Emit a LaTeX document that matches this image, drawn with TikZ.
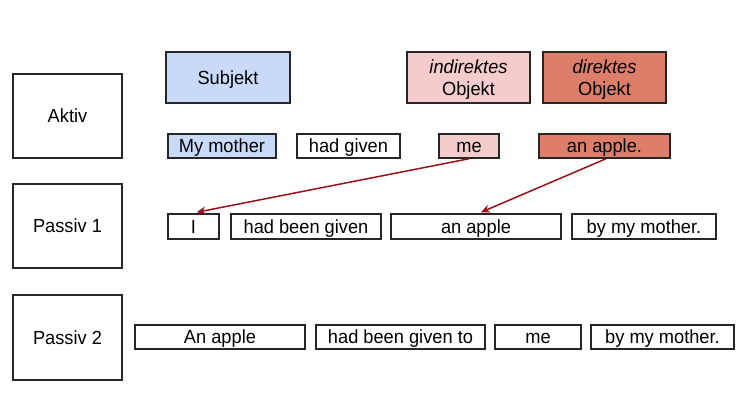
\documentclass[tikz,border=0pt]{standalone}
\usepackage{fontspec}
\setmainfont{Liberation Sans}[FakeStretch=0.96]
\usetikzlibrary{arrows.meta}
\definecolor{subj}{HTML}{C9DAF8}
\definecolor{iobj}{HTML}{F4CCCC}
\definecolor{dobj}{HTML}{DD7E6B}
\definecolor{arr}{HTML}{98111A}
\begin{document}
\begin{tikzpicture}[x=1pt,y=-1pt,
  box/.style={draw=black!85,line width=1.5pt,inner sep=0pt,font=\fontsize{19}{22}\selectfont,align=center,text height=13.6pt,text depth=0pt},
  twoline/.style={text height=35.6pt,text depth=0pt},
  link/.style={draw=arr,line width=1.5pt,-{Stealth[length=9pt,width=8pt]}}]
\useasboundingbox (0,0) rectangle (750,406);
\newcommand\bx[6]{\node[box,#6,minimum width={#3-#2},minimum height={#5-#4}] (#1) at ({(#2+#3)/2},{(#4+#5)/2})}
% row labels
\bx{aktiv}{13}{122}{74}{158}{}{Aktiv};
\bx{passiv1}{13}{122}{184}{268}{}{Passiv 1};
\bx{passiv2}{13}{122}{295}{380}{}{Passiv 2};
% headers
\bx{subjekt}{166}{290}{52}{103}{fill=subj}{Subjekt};
\bx{indobj}{407}{530}{52}{103}{fill=iobj,twoline}{\textit{indirektes}\\Objekt};
\bx{dirobj}{543}{666}{52}{103}{fill=dobj,twoline}{\textit{direktes}\\Objekt};
% active row
\bx{mymother}{168}{276}{134}{158}{fill=subj}{My mother};
\bx{hadgiven}{297}{400}{134}{158}{}{had given};
\bx{me}{439}{499}{134}{158}{fill=iobj}{me};
\bx{anapple}{539}{670}{134}{158}{fill=dobj}{an apple.};
% passive 1
\bx{I}{168}{219}{214}{239}{}{I};
\bx{hbg}{231}{381}{214}{239}{}{had been given};
\bx{apple1}{391}{561}{214}{239}{}{an apple};
\bx{bymm1}{572}{716}{214}{239}{}{by my mother.};
% passive 2
\bx{apple2}{135}{305}{325}{349}{}{An apple};
\bx{hbgt}{316}{485}{325}{349}{}{had been given to};
\bx{me2}{495}{581}{325}{349}{}{me};
\bx{bymm2}{591}{734}{325}{349}{}{by my mother.};
% arrows
\draw[link] (me.south) -- ([xshift=-23pt,yshift=1pt]I.north east);
\draw[link] ([xshift=1.5pt]anapple.south) -- ([xshift=5pt,yshift=1pt]apple1.north);
\end{tikzpicture}
\end{document}
